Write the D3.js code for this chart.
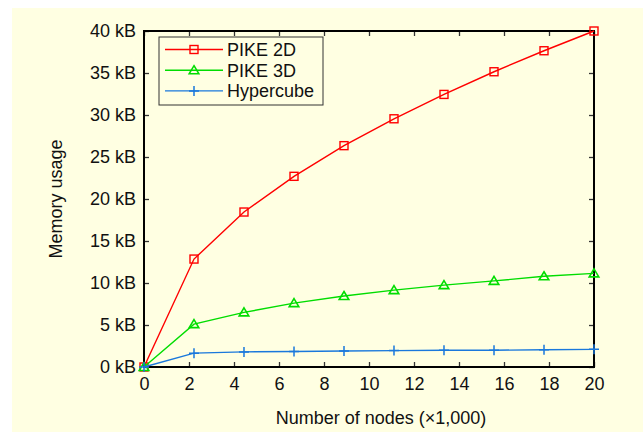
<!DOCTYPE html>
<html>
<head>
<meta charset="utf-8">
<script src="https://cdn.jsdelivr.net/npm/d3@7"></script>
<style>
  body { margin: 0; background: #fff; }
  text { font-family: "Liberation Sans", Arial, sans-serif; fill: #111; }
</style>
</head>
<body>
<script>
// node counts (x1,000)
var nodes = [0, 2.222, 4.444, 6.667, 8.889, 11.111, 13.333, 15.556, 17.778, 20];
var pike2d = [0, 12.85, 18.45, 22.7, 26.35, 29.55, 32.45, 35.15, 37.65, 40];
var pike3d = [0, 5.1, 6.5, 7.6, 8.45, 9.15, 9.75, 10.25, 10.8, 11.15];
var hypercube = [0, 1.65, 1.8, 1.85, 1.9, 1.95, 2.0, 2.0, 2.05, 2.1];
var seriesNames = ["PIKE 2D", "PIKE 3D", "Hypercube"];
var xTicks = [0, 2, 4, 6, 8, 10, 12, 14, 16, 18, 20];
var yTicks = [0, 5, 10, 15, 20, 25, 30, 35, 40];

var width = 643, height = 432;
var margin = {top: 31, right: 49, bottom: 65, left: 144};
var plotW = width - margin.left - margin.right,
    plotH = height - margin.top - margin.bottom;
var fontSize = 18;

var series = [
  {name: seriesNames[0], values: pike2d, color: "#ff0000", marker: "square"},
  {name: seriesNames[1], values: pike3d, color: "#00dd00", marker: "triangle"},
  {name: seriesNames[2], values: hypercube, color: "#1a78dc", marker: "plus"}
];

var svg = d3.select("body").append("svg")
  .attr("width", width)
  .attr("height", height);

svg.append("rect")
  .attr("x", 12).attr("y", 8)
  .attr("width", width - 12).attr("height", height - 8)
  .attr("fill", "#ffffe2");

var g = svg.append("g").attr("transform", "translate(" + margin.left + "," + margin.top + ")");

var x = d3.scaleLinear().domain([0, 20]).range([0, plotW]);
var y = d3.scaleLinear().domain([0, 40]).range([plotH, 0]);

// axes, ticks pointing inward
var tickLen = 5;
g.append("g").attr("transform", "translate(0," + plotH + ")")
  .call(d3.axisBottom(x).tickValues(xTicks).tickSizeInner(-tickLen).tickSizeOuter(0).tickPadding(10).tickFormat(d3.format("d")));
g.append("g")
  .call(d3.axisTop(x).tickValues(xTicks).tickSizeInner(-tickLen).tickSizeOuter(0).tickFormat(""));
g.append("g")
  .call(d3.axisLeft(y).tickValues(yTicks).tickSizeInner(-tickLen).tickSizeOuter(0).tickPadding(8).tickFormat(function(d){ return d + " kB"; }));
g.append("g").attr("transform", "translate(" + plotW + ",0)")
  .call(d3.axisRight(y).tickValues(yTicks).tickSizeInner(-tickLen).tickSizeOuter(0).tickFormat(""));

g.selectAll(".domain").remove();
g.selectAll(".tick line").attr("stroke", "#333").attr("stroke-width", 1.3);
g.selectAll(".tick text").attr("font-size", fontSize).attr("fill", "#111")
  .style("font-family", "'Liberation Sans', Arial, sans-serif");

// frame
g.append("rect")
  .attr("width", plotW).attr("height", plotH)
  .attr("fill", "none").attr("stroke", "#000").attr("stroke-width", 2);

var line = d3.line()
  .x(function(d, i) { return x(nodes[i]); })
  .y(function(d) { return y(d); });

function drawMarker(sel, type, color) {
  if (type === "square") {
    sel.append("rect").attr("x", -4).attr("y", -4).attr("width", 8).attr("height", 8)
      .attr("fill", "none").attr("stroke", color).attr("stroke-width", 1.4);
  } else if (type === "triangle") {
    sel.append("path").attr("d", "M0,-4.5L4.8,3.5L-4.8,3.5Z")
      .attr("fill", "none").attr("stroke", color).attr("stroke-width", 1.6);
  } else {
    sel.append("path").attr("d", "M-5,0H5M0,-5V5")
      .attr("fill", "none").attr("stroke", color).attr("stroke-width", 1.5);
  }
}

series.forEach(function(s) {
  g.append("path")
    .datum(s.values)
    .attr("fill", "none")
    .attr("stroke", s.color)
    .attr("stroke-width", 1.4)
    .attr("d", line);
  s.values.forEach(function(v, i) {
    var m = g.append("g").attr("transform", "translate(" + x(nodes[i]) + "," + y(v) + ")");
    drawMarker(m, s.marker, s.color);
  });
});

// legend
var legend = svg.append("g").attr("transform", "translate(159,37)");
legend.append("rect")
  .attr("width", 164).attr("height", 68)
  .attr("fill", "#ffffe2").attr("stroke", "#333").attr("stroke-width", 1);
series.forEach(function(s, i) {
  var row = legend.append("g").attr("transform", "translate(0," + (12.5 + i * 20.7) + ")");
  row.append("line").attr("x1", 6).attr("x2", 64).attr("y1", 0).attr("y2", 0)
    .attr("stroke", s.color).attr("stroke-width", 1.4);
  var m = row.append("g").attr("transform", "translate(35,0)");
  drawMarker(m, s.marker, s.color);
  row.append("text").attr("x", 68).attr("y", 0).attr("dy", "0.36em")
    .attr("font-size", fontSize).text(s.name);
});

// axis titles
svg.append("text")
  .attr("x", 381).attr("y", 424)
  .attr("text-anchor", "middle").attr("font-size", fontSize)
  .text("Number of nodes (\u00d71,000)");
svg.append("text")
  .attr("transform", "translate(62," + (margin.top + plotH / 2) + ") rotate(-90)")
  .attr("text-anchor", "middle").attr("font-size", fontSize)
  .text("Memory usage");
</script>
</body>
</html>
